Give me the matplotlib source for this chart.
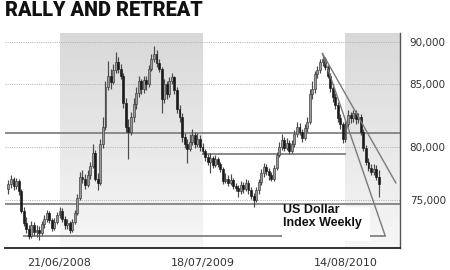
import numpy as np
import pandas as pd
import matplotlib
matplotlib.use('Agg')
import matplotlib.pyplot as plt
import matplotlib.dates as mdates
from matplotlib.patches import Rectangle

# weekly US dollar index candles
week_start = '2008-02-02'
wk_open = [76.0, 76.5, 77.0, 76.3, 76.8, 75.8, 74.0, 72.8, 72.3, 71.6,
           72.6, 72.0, 72.2, 71.9, 72.7, 73.2, 73.8, 73.1, 72.4, 72.9,
           73.6, 74.0, 73.2, 72.6, 72.8, 72.2, 72.9, 73.8, 75.2, 77.2,
           77.0, 76.4, 77.3, 78.2, 79.4, 77.0, 76.6, 80.2, 81.6, 84.8,
           86.0, 85.2, 86.7, 87.6, 86.8, 86.0, 83.5, 81.6, 81.2, 82.4,
           83.4, 84.3, 85.3, 84.6, 85.5, 85.0, 86.8, 88.0, 88.6, 87.5,
           86.8, 83.8, 85.0, 84.2, 85.3, 85.8, 84.5, 83.0, 82.4, 80.8,
           80.2, 79.8, 80.4, 80.9, 80.2, 80.6, 80.0, 79.6, 79.0, 78.6,
           78.9, 78.3, 78.8, 78.4, 77.9, 76.8, 77.0, 76.6, 76.9, 76.3,
           76.1, 75.8, 76.4, 76.0, 76.6, 75.9, 75.4, 75.0, 75.9, 76.7,
           77.5, 78.1, 77.7, 77.3, 77.0, 78.0, 79.2, 80.0, 80.5, 79.9,
           80.3, 79.6, 80.2, 81.0, 81.6, 81.2, 80.7, 81.5, 82.0, 84.2,
           84.6, 86.2, 86.6, 87.6, 88.0, 87.0, 86.0, 84.7, 84.0, 83.3,
           82.3, 81.8, 80.6, 81.8, 82.5, 82.3, 82.7, 82.2, 82.4, 81.2,
           79.9, 78.6, 78.0, 77.6, 77.9, 77.2]
wk_high = [76.9, 77.3, 77.2, 77.1, 77.0, 76.0, 74.3, 73.4, 72.6, 73.0,
           72.9, 72.6, 72.5, 73.0, 73.6, 74.1, 74.0, 73.3, 73.3, 73.9,
           74.3, 74.2, 73.5, 73.2, 73.0, 73.2, 74.1, 75.6, 77.6, 77.8,
           77.4, 77.8, 78.6, 80.2, 79.7, 77.5, 80.6, 82.4, 85.3, 87.7,
           86.8, 87.4, 88.8, 88.2, 87.4, 86.3, 83.9, 82.2, 82.8, 83.9,
           84.8, 85.9, 85.6, 86.0, 85.9, 87.3, 88.6, 89.5, 89.0, 87.9,
           87.0, 85.6, 85.4, 85.8, 86.3, 86.0, 84.8, 83.3, 82.7, 81.1,
           80.6, 81.0, 81.4, 81.2, 81.1, 80.9, 80.3, 79.8, 79.3, 79.4,
           79.1, 79.2, 79.0, 78.6, 78.1, 77.5, 77.3, 77.4, 77.1, 76.6,
           76.4, 76.8, 76.7, 77.0, 76.9, 76.2, 75.7, 76.2, 77.0, 77.9,
           78.5, 78.4, 78.0, 77.6, 78.3, 79.5, 80.4, 81.0, 80.8, 80.7,
           80.5, 80.5, 81.3, 82.0, 81.9, 81.4, 81.8, 82.4, 84.6, 85.3,
           86.5, 87.1, 88.0, 88.4, 88.2, 87.3, 86.3, 85.0, 84.3, 83.6,
           82.6, 82.0, 82.1, 82.9, 82.8, 82.9, 82.9, 82.7, 82.6, 81.4,
           80.1, 78.9, 78.4, 78.4, 78.3, 77.8]
wk_low = [75.6, 76.1, 75.9, 76.0, 75.5, 73.8, 72.5, 71.9, 71.3, 71.4,
          71.6, 71.5, 71.2, 71.7, 72.4, 72.9, 72.8, 72.1, 72.2, 72.7,
          73.3, 72.9, 72.3, 72.3, 71.9, 72.0, 72.7, 73.6, 75.0, 76.6,
          76.0, 76.2, 77.0, 78.0, 76.8, 75.9, 76.4, 79.9, 81.3, 84.5,
          84.6, 85.0, 86.3, 86.3, 85.6, 83.1, 81.2, 78.8, 80.9, 82.0,
          83.0, 84.0, 84.2, 84.3, 84.5, 84.8, 86.5, 87.6, 87.0, 86.4,
          82.7, 83.5, 83.8, 84.0, 85.0, 84.2, 82.7, 82.0, 80.4, 79.9,
          78.5, 79.6, 80.1, 79.9, 80.0, 79.6, 79.3, 78.7, 78.3, 77.5,
          78.0, 78.1, 78.1, 77.6, 76.5, 76.6, 76.3, 76.4, 76.0, 75.8,
          75.3, 75.6, 75.7, 75.8, 75.6, 75.1, 74.3, 74.8, 75.6, 76.4,
          77.2, 77.3, 76.9, 76.8, 76.8, 77.8, 79.0, 79.7, 79.6, 79.7,
          79.3, 79.4, 80.0, 80.8, 80.9, 80.4, 80.5, 81.2, 81.8, 83.8,
          84.3, 85.7, 86.3, 87.1, 86.6, 85.7, 84.4, 83.6, 83.0, 82.0,
          81.4, 80.3, 80.4, 81.6, 81.9, 82.0, 81.8, 81.9, 80.9, 79.6,
          78.3, 77.7, 77.3, 77.3, 76.9, 75.3]
wk_close = [76.5, 77.0, 76.3, 76.8, 75.8, 74.0, 72.8, 72.3, 71.6, 72.6,
            72.0, 72.2, 71.9, 72.7, 73.2, 73.8, 73.1, 72.4, 72.9, 73.6,
            74.0, 73.2, 72.6, 72.8, 72.2, 72.9, 73.8, 75.2, 77.2, 77.0,
            76.4, 77.3, 78.2, 79.4, 77.0, 76.6, 80.2, 81.6, 84.8, 86.0,
            85.2, 86.7, 87.6, 86.8, 86.0, 83.5, 81.6, 81.2, 82.4, 83.4,
            84.3, 85.3, 84.6, 85.5, 85.0, 86.8, 88.0, 88.6, 87.5, 86.8,
            83.8, 85.0, 84.2, 85.3, 85.8, 84.5, 83.0, 82.4, 80.8, 80.2,
            79.8, 80.4, 80.9, 80.2, 80.6, 80.0, 79.6, 79.0, 78.6, 78.9,
            78.3, 78.8, 78.4, 77.9, 76.8, 77.0, 76.6, 76.9, 76.3, 76.1,
            75.8, 76.4, 76.0, 76.6, 75.9, 75.4, 75.0, 75.9, 76.7, 77.5,
            78.1, 77.7, 77.3, 77.0, 78.0, 79.2, 80.0, 80.5, 79.9, 80.3,
            79.6, 80.2, 81.0, 81.6, 81.2, 80.7, 81.5, 82.0, 84.2, 84.6,
            86.2, 86.6, 87.6, 88.0, 87.0, 86.0, 84.7, 84.0, 83.3, 82.3,
            81.8, 80.6, 81.8, 82.5, 82.3, 82.7, 82.2, 82.4, 81.2, 79.9,
            78.6, 78.0, 77.6, 77.9, 77.2, 76.5]

# axis labels
y_ticks = [75, 80, 85, 90]
y_labels = ['75,000', '80,000', '85,000', '90,000']
x_tick_dates = ['2008-06-21', '2009-07-18', '2010-08-14']
x_tick_labels = ['21/06/2008', '18/07/2009', '14/08/2010']

# shaded periods
shade1 = ('2008-06-21', '2009-07-18')
shade2 = ('2010-08-14', '2011-01-10')

# support / resistance lines
full_lines = [81.07, 74.62]
mid_line = (79.36, '2009-07-18', '2010-08-14')
low_line = (71.6, '2008-03-15', '2010-11-30')
trend_upper = (['2010-06-12', '2010-12-30'], [88.6, 76.6])
trend_lower = (['2010-06-12', '2010-11-30'], [88.6, 71.7])

# the printed chart's value axis is not evenly spaced
scale_vals = [70, 75, 80, 85, 90, 92]
scale_pos = [-253, -200, -146.7, -84, -41.7, -24.8]


def fwd(v):
    return np.interp(v, scale_vals, scale_pos)


def inv(p):
    return np.interp(p, scale_pos, scale_vals)


def dn(s):
    return mdates.date2num(pd.Timestamp(s))


fig = plt.figure(figsize=(4.5, 2.7), dpi=100)
ax = fig.add_axes([5 / 450, 1 - 248.3 / 270, 395 / 450, 215.3 / 270])
ax.set_yscale('function', functions=(fwd, inv))

x_left = dn('2008-06-21') - 149.4
x_right = dn('2010-08-14') + 149.4
ax.set_xlim(x_left, x_right)
ax.set_ylim(70.44, 91.03)

# gradient shading
n_band = 40
for a, b in [(dn(shade1[0]), dn(shade1[1])), (dn(shade2[0]), x_right)]:
    for k in range(n_band):
        t = k / n_band
        g = 0.965 - 0.12 * t
        ax.axvspan(a, b, ymin=t, ymax=t + 1 / n_band + 0.002,
                   color=(g, g, g), lw=0, zorder=0)

# grid
for v in y_ticks:
    ax.axhline(v, color='#b0b0b0', lw=0.7, ls=(0, (1, 1.3)), zorder=1)

for v in full_lines:
    ax.axhline(v, color='#8a8a8a', lw=1.4, zorder=2)
ax.plot([dn(mid_line[1]), dn(mid_line[2])], [mid_line[0]] * 2,
        color='#8a8a8a', lw=1.4, zorder=2)
ax.plot([dn(low_line[1]), dn(low_line[2])], [low_line[0]] * 2,
        color='#8a8a8a', lw=1.4, zorder=2)

# candles
dates = pd.date_range(week_start, periods=len(wk_close), freq='7D')
xd = mdates.date2num(dates)
o = np.array(wk_open)
c = np.array(wk_close)
h = np.array(wk_high)
l = np.array(wk_low)
up = c >= o
ax.vlines(xd, l, h, color='#4a4a4a', lw=0.85, zorder=3)
ax.bar(xd[up], c[up] - o[up], bottom=o[up], width=5.2,
       color='#9a9a9a', edgecolor='#3a3a3a', lw=0.45, zorder=4)
ax.bar(xd[~up], o[~up] - c[~up], bottom=c[~up], width=5.2,
       color='#1a1a1a', edgecolor='#1a1a1a', lw=0.45, zorder=4)

# trend lines
for xs, ys in [trend_upper, trend_lower]:
    ax.plot([dn(s) for s in xs], ys, color='#7a7a7a', lw=1.0, zorder=5)

# white label box
ax.add_patch(Rectangle((0.701, 0.036), 0.223, 0.158, transform=ax.transAxes,
                       facecolor='white', edgecolor='none', zorder=6))
ax.text(0.704, 0.207, 'US Dollar\nIndex Weekly', transform=ax.transAxes,
        ha='left', va='top', fontsize=9, fontweight='bold',
        family=['Liberation Sans', 'DejaVu Sans'], color='#111111',
        linespacing=1.15, zorder=7)

# axes styling
ax.yaxis.tick_right()
ax.set_yticks(y_ticks)
ax.set_yticklabels(y_labels)
ax.yaxis.set_minor_locator(matplotlib.ticker.NullLocator())
ax.set_xticks([dn(s) for s in x_tick_dates])
ax.set_xticklabels(x_tick_labels)
ax.tick_params(axis='y', length=0, pad=7, labelsize=7.5, labelcolor='#333333')
ax.tick_params(axis='x', length=0, pad=7, labelsize=8, labelcolor='#333333')
ax.spines['top'].set_visible(False)
ax.spines['left'].set_visible(False)
ax.spines['bottom'].set_color('#222222')
ax.spines['bottom'].set_linewidth(1.3)
ax.spines['right'].set_color('#555555')
ax.spines['right'].set_linewidth(1.0)
ax.set_facecolor('white')

fig.text(5 / 450, 1 - 0.5 / 270, 'RALLY AND RETREAT', ha='left', va='top',
         fontsize=14.3, fontweight='black', family=['Roboto', 'DejaVu Sans'],
         color='#111111')

fig.savefig('out.png', dpi=100)
